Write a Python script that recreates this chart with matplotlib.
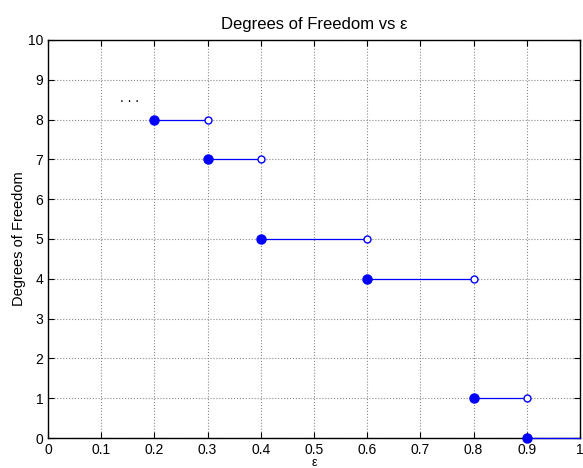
import matplotlib
matplotlib.use('Agg')
import matplotlib.pyplot as plt

plt.rcParams['font.family'] = ['Liberation Sans', 'DejaVu Sans']

# step segments: start, end, degrees of freedom
seg_start = [0.2, 0.3, 0.4, 0.6, 0.8, 0.9]
seg_end = [0.3, 0.4, 0.6, 0.8, 0.9, 1.0]
dof = [8, 7, 5, 4, 1, 0]
open_end = [True, True, True, True, True, False]

fig = plt.figure(figsize=(5.83, 4.68), dpi=100)
ax = fig.add_axes([48 / 583, 1 - 438 / 468, 532 / 583, 398 / 468])

for x0, x1, y, op in zip(seg_start, seg_end, dof, open_end):
    ax.plot([x0, x1], [y, y], color='b', lw=0.9, clip_on=False, zorder=3.5)
    ax.plot(x0, y, 'o', color='b', ms=6.5, clip_on=False, zorder=4)
    if op:
        ax.plot(x1, y, 'o', mec='b', mfc='w', ms=5, mew=1, clip_on=False, zorder=4)

ax.text(0.154, 8.55, '. . .', ha='center', va='center', fontsize=10)

ax.set_xlim(0, 1)
ax.set_ylim(0, 10)
ax.set_xticks([i / 10 for i in range(11)])
ax.set_xticklabels(['0', '0.1', '0.2', '0.3', '0.4', '0.5', '0.6', '0.7', '0.8', '0.9', '1'])
ax.set_yticks(range(11))
ax.tick_params(direction='in', top=True, right=True, labelsize=10, length=4, width=0.8)
ax.grid(True, linestyle=':', color='#888888', lw=0.8)
for s in ax.spines.values():
    s.set_linewidth(1.0)

ax.set_title('Degrees of Freedom vs ε', fontsize=12, pad=8)
ax.set_xlabel('ε', fontsize=9, labelpad=0)
ax.set_ylabel('Degrees of Freedom', fontsize=10.5, labelpad=1)

fig.savefig('out.png', dpi=100)
